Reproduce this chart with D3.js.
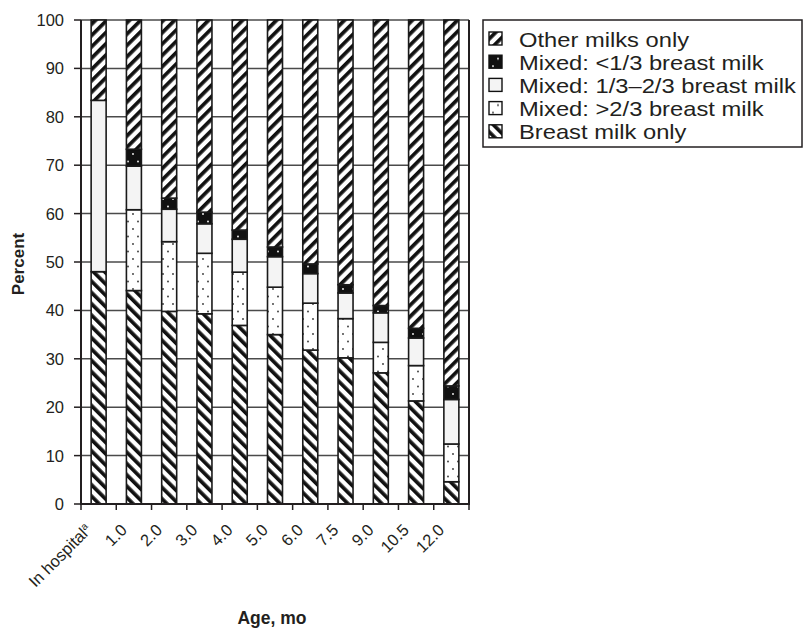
<!DOCTYPE html>
<meta charset="utf-8"/>
<head>
<style>
  body { margin:0; background:#fff; }
  text { font-family: "Liberation Sans", Arial, sans-serif; fill:#231f20; }
</style>
<script src="https://d3js.org/d3.v7.min.js" charset="utf-8"></script>
</head>
<body>
<script>

  // values (percent of infants)
  var categories   = ["In hospital", "1.0", "2.0", "3.0", "4.0", "5.0", "6.0", "7.5", "9.0", "10.5", "12.0"];
  var breastOnly   = [48.0, 44.1, 39.8, 39.3, 36.9, 35.0, 31.8, 30.2, 27.1, 21.3, 4.6];
  var mixedOver23  = [0, 16.7, 14.4, 12.5, 11.0, 9.8, 9.7, 8.1, 6.3, 7.3, 7.8];
  var mixedMid     = [35.4, 9.0, 6.7, 6.1, 6.8, 6.3, 6.1, 5.3, 6.1, 5.7, 9.2];
  var mixedUnder13 = [0, 3.5, 2.3, 2.4, 1.9, 2.0, 2.0, 1.7, 1.5, 2.0, 2.8];
  var otherOnly    = [16.6, 26.7, 36.8, 39.7, 43.4, 46.9, 50.4, 54.7, 59.0, 63.7, 75.6];
  var yTicks       = [0, 10, 20, 30, 40, 50, 60, 70, 80, 90, 100];

  var keys = ["breast", "over23", "mid", "under13", "other"]; // bottom -> top
  var labels = {
    other:   "Other milks only",
    under13: "Mixed: <1/3 breast milk",
    mid:     "Mixed: 1/3\u20132/3 breast milk",
    over23:  "Mixed: >2/3 breast milk",
    breast:  "Breast milk only"
  };

  var rows = categories.map(function(c, i){
    return {cat:c, breast:breastOnly[i], over23:mixedOver23[i], mid:mixedMid[i],
            under13:mixedUnder13[i], other:otherOnly[i]};
  });

  var width = 804, height = 629;
  var ink = "#231f20";

  var svg = d3.select("body").append("svg")
    .attr("width", width)
    .attr("height", height);

  // ---- patterns ----
  var defs = svg.append("defs");

  function stripes(id, angle){
    var p = defs.append("pattern").attr("id", id)
      .attr("patternUnits", "userSpaceOnUse")
      .attr("width", 8).attr("height", 8)
      .attr("patternTransform", "rotate(" + angle + ")");
    p.append("rect").attr("width", 8).attr("height", 8).attr("fill", "#fff");
    p.append("rect").attr("width", 3.7).attr("height", 8).attr("fill", "#111");
  }
  stripes("pOther", 45);   // "/"
  stripes("pBreast", -45); // "\"

  function dots(id, bg, dot){
    var p = defs.append("pattern").attr("id", id)
      .attr("patternUnits", "userSpaceOnUse")
      .attr("width", 10).attr("height", 15);
    p.append("rect").attr("width", 10).attr("height", 15).attr("fill", bg);
    p.append("circle").attr("cx", 3).attr("cy", 4).attr("r", 0.9).attr("fill", dot);
    p.append("circle").attr("cx", 8).attr("cy", 11.5).attr("r", 0.9).attr("fill", dot);
  }
  dots("pOver", "#fff", "#333");
  dots("pUnder", "#111", "#fff");

  var fills = {
    breast:  "url(#pBreast)",
    over23:  "url(#pOver)",
    mid:     "#f4f4f4",
    under13: "url(#pUnder)",
    other:   "url(#pOther)"
  };

  // ---- scales ----
  var x = d3.scaleBand()
    .domain(categories)
    .range([81, 469])
    .paddingInner(0.575)
    .paddingOuter(0.2875);

  var y = d3.scaleLinear()
    .domain([0, 100])
    .range([504, 20]);

  var step = x.step();

  // gridlines
  svg.append("g").selectAll("line")
    .data(yTicks.filter(function(d){ return d > 0; }))
    .enter().append("line")
    .attr("x1", 81).attr("x2", 469)
    .attr("y1", function(d){ return y(d); })
    .attr("y2", function(d){ return y(d); })
    .attr("stroke", "#4a4a4a")
    .attr("stroke-width", 1.5);

  // ---- stacked bars ----
  var series = d3.stack().keys(keys)(rows);

  svg.append("g").selectAll("g")
    .data(series)
    .enter().append("g")
    .attr("fill", function(s){ return fills[s.key]; })
    .selectAll("rect")
    .data(function(s){ return s.filter(function(d){ return d[1] - d[0] > 0; }); })
    .enter().append("rect")
    .attr("x", function(d){ return x(d.data.cat); })
    .attr("width", x.bandwidth())
    .attr("y", function(d){ return y(d[1]); })
    .attr("height", function(d){ return y(d[0]) - y(d[1]); })
    .attr("stroke", "#1a1a1a")
    .attr("stroke-width", 1.6);

  // ---- axes ----
  var yAxis = svg.append("g");
  yAxis.append("line")
    .attr("x1", 81).attr("x2", 81).attr("y1", 20).attr("y2", 504)
    .attr("stroke", ink).attr("stroke-width", 2);
  yAxis.append("line") // right frame
    .attr("x1", 469).attr("x2", 469).attr("y1", 20).attr("y2", 504)
    .attr("stroke", ink).attr("stroke-width", 2);
  var yt = yAxis.selectAll(".ytick")
    .data(yTicks)
    .enter().append("g")
    .attr("class", "ytick")
    .attr("transform", function(d){ return "translate(0," + y(d) + ")"; });
  yt.append("line").attr("x1", 74).attr("x2", 81).attr("stroke", ink).attr("stroke-width", 1.5);
  yt.append("text")
    .attr("x", 64)
    .attr("dy", "0.36em")
    .attr("text-anchor", "end")
    .style("font-size", "16.5px")
    .text(function(d){ return d; });

  var xAxis = svg.append("g");
  xAxis.append("line")
    .attr("x1", 80).attr("x2", 470).attr("y1", 504).attr("y2", 504)
    .attr("stroke", ink).attr("stroke-width", 2);
  xAxis.selectAll(".xtick")
    .data(d3.range(categories.length + 1))
    .enter().append("line")
    .attr("x1", function(i){ return 81 + i * step; })
    .attr("x2", function(i){ return 81 + i * step; })
    .attr("y1", 504).attr("y2", 510)
    .attr("stroke", ink).attr("stroke-width", 1.5);

  var xl = xAxis.selectAll(".xlab")
    .data(categories)
    .enter().append("text")
    .attr("class", "xlab")
    .attr("text-anchor", "end")
    .style("font-size", "16.5px")
    .attr("transform", function(d){
      return "translate(" + (x(d) + x.bandwidth() / 2 - 6) + ",531) rotate(-45)";
    });
  xl.append("tspan").text(function(d){ return d; });
  xl.filter(function(d, i){ return i === 0; })
    .append("tspan")
    .attr("dy", "-0.6em")
    .style("font-size", "10px")
    .text("a");

  // axis titles
  svg.append("text")
    .attr("transform", "translate(24,264) rotate(-90)")
    .attr("text-anchor", "middle")
    .style("font-size", "17px")
    .style("font-weight", "bold")
    .text("Percent");

  svg.append("text")
    .attr("x", 272).attr("y", 624)
    .attr("text-anchor", "middle")
    .style("font-size", "17.5px")
    .style("font-weight", "bold")
    .text("Age, mo");

  // ---- legend ----
  var legend = svg.append("g");
  legend.append("rect")
    .attr("x", 483).attr("y", 20)
    .attr("width", 319).attr("height", 127)
    .attr("fill", "#fff")
    .attr("stroke", ink).attr("stroke-width", 1.5);

  var order = ["other", "under13", "mid", "over23", "breast"];
  var li = legend.selectAll(".li")
    .data(order)
    .enter().append("g")
    .attr("class", "li")
    .attr("transform", function(d, i){ return "translate(0," + (39 + i * 23.2) + ")"; });

  li.append("rect")
    .attr("x", 489).attr("y", -7)
    .attr("width", 13).attr("height", 13)
    .attr("fill", function(d){ return fills[d]; })
    .attr("stroke", "#111").attr("stroke-width", 1.4);

  li.append("text")
    .attr("x", 519)
    .attr("dy", "0.36em")
    .style("font-size", "21px")
    .text(function(d){ return labels[d]; })
    .each(function(){
      var w = this.getComputedTextLength();
      d3.select(this).attr("textLength", w * 1.13).attr("lengthAdjust", "spacingAndGlyphs");
    });

</script>
</body>
</html>
